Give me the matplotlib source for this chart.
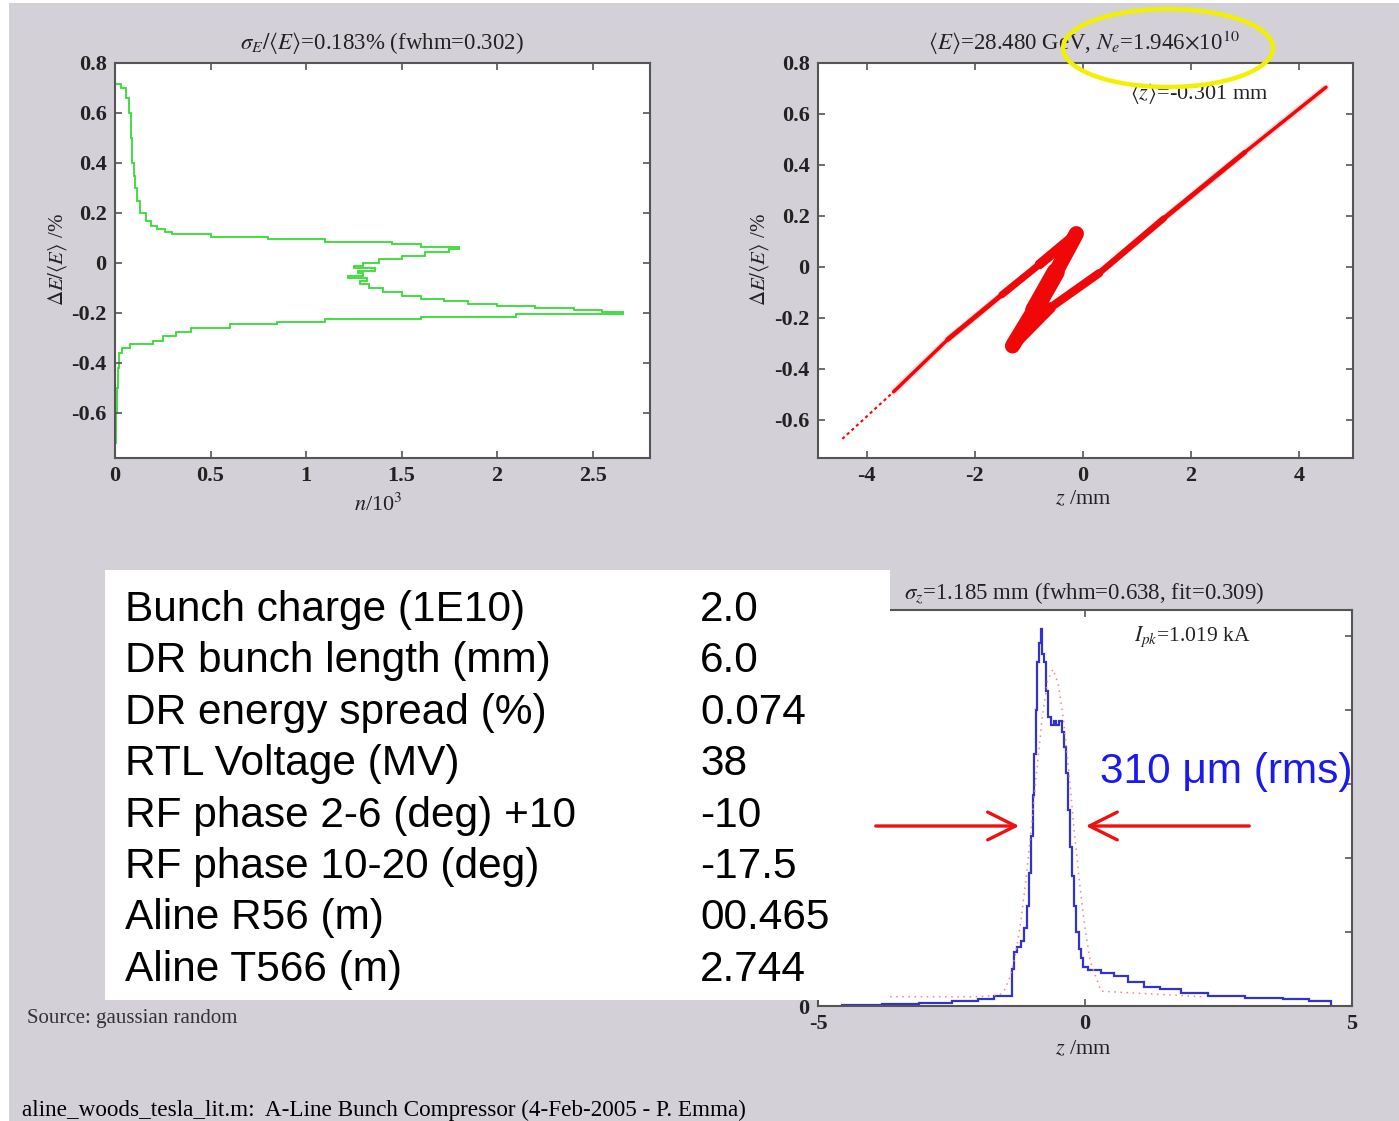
import numpy as np
import matplotlib
matplotlib.use("Agg")
import matplotlib.pyplot as plt
from matplotlib.patches import Rectangle, Ellipse, FancyArrowPatch

# energy projection: bin edges (dE/<E> in %) and counts (n/10^3)
e_edges = [-0.72, -0.60, -0.50, -0.42, -0.36, -0.34, -0.325, -0.31, -0.29, -0.275,
           -0.26, -0.245, -0.235, -0.225, -0.215, -0.205, -0.195, -0.188, -0.18, -0.17,
           -0.162, -0.152, -0.142, -0.13, -0.115, -0.10, -0.085, -0.072, -0.06, -0.05,
           -0.04, -0.03, -0.02, -0.01, 0.0, 0.015, 0.03, 0.045, 0.055, 0.065,
           0.075, 0.085, 0.095, 0.105, 0.115, 0.125, 0.135, 0.15, 0.17, 0.20,
           0.25, 0.30, 0.35, 0.40, 0.50, 0.60, 0.66, 0.70, 0.715]
e_counts = [0.005, 0.01, 0.015, 0.02, 0.035, 0.08, 0.2, 0.25, 0.32, 0.4,
            0.6, 0.85, 1.1, 1.6, 2.1, 2.66, 2.55, 2.4, 2.2, 2.0,
            1.85, 1.72, 1.6, 1.5, 1.4, 1.33, 1.28, 1.32, 1.22, 1.3,
            1.27, 1.36, 1.25, 1.3, 1.38, 1.5, 1.62, 1.75, 1.80, 1.6,
            1.45, 1.1, 0.8, 0.5, 0.3, 0.26, 0.22, 0.19, 0.16, 0.13,
            0.115, 0.105, 0.1, 0.09, 0.085, 0.075, 0.06, 0.03]

# longitudinal phase space: ridge of the particle cloud (z mm, dE %)
ridge_z = [-4.45, -3.5, -2.5, -1.5, -0.8, -0.12, -0.5, -0.9, -1.3,
           -0.6, 0.3, 1.5, 3.0, 4.5]
ridge_e = [-0.675, -0.49, -0.285, -0.11, 0.01, 0.13, -0.02, -0.17, -0.31,
           -0.16, -0.025, 0.19, 0.45, 0.705]

# current profile: bin edges (z mm) and peak current (kA)
i_edges = [-4.55, -3.8, -3.1, -2.5, -2.0, -1.7, -1.37, -1.33, -1.27, -1.2,
           -1.14, -1.09, -1.05, -1.01, -0.98, -0.95, -0.92, -0.89, -0.855, -0.825,
           -0.80, -0.77, -0.73, -0.69, -0.64, -0.58, -0.54, -0.48, -0.44, -0.40,
           -0.36, -0.32, -0.28, -0.24, -0.20, -0.16, -0.12, -0.08, -0.03, 0.05,
           0.30, 0.55, 0.80, 1.10, 1.40, 1.80, 2.30, 3.00, 3.70, 4.20, 4.60]
i_kA = [0.004, 0.006, 0.009, 0.013, 0.02, 0.028, 0.10, 0.145, 0.16, 0.175,
        0.21, 0.27, 0.36, 0.46, 0.57, 0.68, 0.80, 0.93, 0.98, 1.019,
        0.95, 0.93, 0.85, 0.78, 0.76, 0.77, 0.76, 0.77, 0.74, 0.70,
        0.63, 0.53, 0.43, 0.35, 0.27, 0.20, 0.155, 0.13, 0.105, 0.097,
        0.088, 0.08, 0.065, 0.052, 0.045, 0.035, 0.027, 0.022, 0.018, 0.014]

# gaussian fit (dotted)
fit_z = [-3.65, -2.0, -1.6, -1.5, -1.4, -1.3, -1.2, -1.1, -1.0, -0.9, -0.8,
         -0.7, -0.6, -0.5, -0.4, -0.3, -0.2, -0.1, 0.0, 0.1, 0.3, 2.2]
fit_kA = [0.025, 0.025, 0.03, 0.045, 0.08, 0.14, 0.23, 0.35, 0.49, 0.64, 0.78,
          0.88, 0.91, 0.87, 0.77, 0.63, 0.47, 0.33, 0.21, 0.12, 0.04, 0.025]

# machine parameters in the white box
param_names = ["Bunch charge (1E10)", "DR bunch length (mm)", "DR energy spread (%)",
               "RTL Voltage (MV)", "RF phase 2-6 (deg) +10", "RF phase 10-20 (deg)",
               "Aline R56 (m)", "Aline T566 (m)"]
param_values = ["2.0", "6.0", "0.074", "38", "-10", "-17.5", "00.465", "2.744"]

W, H = 1399, 1121
plt.rcParams['font.family'] = ['Liberation Serif', 'DejaVu Serif']
plt.rcParams['mathtext.fontset'] = 'stix'
plt.rcParams['axes.unicode_minus'] = False

fig = plt.figure(figsize=(W / 100, H / 100), dpi=100, facecolor='white')
bg = '#d4d0d8'
fig.patches.append(Rectangle((9 / W, 0), 1 - 9 / W, 1 - 3 / H, transform=fig.transFigure,
                             facecolor=bg, edgecolor='none', zorder=-10))


def T(x, y, s, **kw):
    return fig.text(x / W, 1 - y / H, s, **kw)


def box(l, t, r, b):
    return [l / W, 1 - b / H, (r - l) / W, (b - t) / H]


def style(ax):
    ax.set_facecolor('white')
    for sp in ax.spines.values():
        sp.set_color('#555555')
        sp.set_linewidth(1.5)
    ax.tick_params(direction='in', length=5, width=1.2, color='#555555',
                   top=True, right=True, labelsize=16, pad=6, labelcolor='#222222')
    for lab in ax.get_xticklabels() + ax.get_yticklabels():
        lab.set_fontweight('bold')


# top left: energy spectrum
ax1 = fig.add_axes(box(115, 63, 650, 458))
ax1.stairs(e_counts, e_edges, orientation='horizontal', color='#33dd33', lw=1.3)
ax1.set_xlim(0, 2.8)
ax1.set_ylim(-0.78, 0.8)
ax1.set_xticks([0, 0.5, 1, 1.5, 2, 2.5])
ax1.set_xticklabels(['0', '0.5', '1', '1.5', '2', '2.5'])
ax1.set_yticks([-0.6, -0.4, -0.2, 0, 0.2, 0.4, 0.6, 0.8])
ax1.set_yticklabels(['-0.6', '-0.4', '-0.2', '0', '0.2', '0.4', '0.6', '0.8'])
style(ax1)
T(382, 43, r'$\sigma_E/\langle E\rangle$=0.183% (fwhm=0.302)', ha='center', va='center',
  fontsize=16.5, color='#222222')
T(378, 505, r'$n$/10$^3$', ha='center', va='center', fontsize=16, color='#222222')
T(58, 260, r'$\Delta E/\langle E\rangle$ /%', ha='center', va='center', rotation=90,
  fontsize=15, color='#222222')

# top right: phase space (band drawn segment by segment, width in points)
ax2 = fig.add_axes(box(818, 63, 1353, 458))
# faint halo as one path so it doesn't stack up at the joints
ax2.plot(ridge_z[1:], ridge_e[1:], color='#ff5050', lw=5, alpha=0.2,
         solid_capstyle='round', solid_joinstyle='round')
band_w = [1.5, 2.5, 3.5, 5, 7, 11, 13, 11, 8, 6, 4.5, 3.5, 2.5]
for i in range(len(ridge_z) - 1):
    ax2.plot(ridge_z[i:i + 2], ridge_e[i:i + 2], color='#f00808', lw=band_w[i],
             solid_capstyle='round', ls=(0, (1.5, 1.5)) if i == 0 else '-')
ax2.set_xlim(-4.9, 5.0)
ax2.set_ylim(-0.75, 0.8)
ax2.set_xticks([-4, -2, 0, 2, 4])
ax2.set_xticklabels(['-4', '-2', '0', '2', '4'])
ax2.set_yticks([-0.6, -0.4, -0.2, 0, 0.2, 0.4, 0.6, 0.8])
ax2.set_yticklabels(['-0.6', '-0.4', '-0.2', '0', '0.2', '0.4', '0.6', '0.8'])
style(ax2)
T(1084, 43, r'$\langle E\rangle$=28.480 GeV, $N_e$=1.946$\times$10$^{10}$', ha='center',
  va='center', fontsize=16.5, color='#222222')
T(1199, 94, r'$\langle z\rangle$=-0.301 mm', ha='center', va='center', fontsize=16,
  color='#222222')
T(1083, 500, r'$z$ /mm', ha='center', va='center', fontsize=16, color='#222222')
T(760, 260, r'$\Delta E/\langle E\rangle$ /%', ha='center', va='center', rotation=90,
  fontsize=15, color='#222222')

# bottom right: current profile (left tick labels sit under the white box)
ax3 = fig.add_axes(box(818, 610, 1352, 1006))
ax3.plot(fit_z, fit_kA, color='#ee8888', lw=1.1, ls=(0, (1, 3)))
ax3.stairs(i_kA, i_edges, color='#3333cc', lw=1.6)
ax3.set_xlim(-5, 5)
ax3.set_ylim(0, 1.07)
ax3.set_xticks([-5, 0, 5])
ax3.set_xticklabels(['-5', '0', '5'])
ax3.set_yticks([0, 0.2, 0.4, 0.6, 0.8, 1.0])
ax3.set_yticklabels(['0', '', '', '', '', ''])
style(ax3)
T(1084, 593, r'$\sigma_z$=1.185 mm (fwhm=0.638, fit=0.309)', ha='center', va='center',
  fontsize=16.5, color='#222222')
T(1192, 637, r'$I_{pk}$=1.019 kA', ha='center', va='center', fontsize=15.5, color='#222222')
T(1083, 1050, r'$z$ /mm', ha='center', va='center', fontsize=16, color='#222222')

# white parameter box
fig.patches.append(Rectangle((105 / W, 1 - 1000 / H), 785 / W, 430 / H,
                             transform=fig.transFigure, facecolor='white',
                             edgecolor='none', zorder=1))
for k, (name, val) in enumerate(zip(param_names, param_values)):
    y = 610 + k * 51.4
    T(125, y, name, ha='left', va='center', fontsize=30.5, family='Liberation Sans',
      color='black', zorder=5)
    T(700, y, val, ha='left', va='center', fontsize=30.5, family='Liberation Sans',
      color='black', zorder=5)

# annotations
T(1100, 772, '310 \u03bcm (rms)', ha='left', va='center', fontsize=30.5,
  family='Liberation Sans', color='#1a1aee', zorder=5)
for x0, x1 in [(873, 1022), (1252, 1083)]:
    arr = FancyArrowPatch((x0 / W, 1 - 826 / H), (x1 / W, 1 - 826 / H),
                          transform=fig.transFigure, arrowstyle='->,head_length=20,head_width=10',
                          mutation_scale=1, color='#ee1111', lw=2.4, zorder=6)
    fig.patches.append(arr)
fig.patches.append(Ellipse((1168 / W, 1 - 48 / H), 210 / W, 78 / H, transform=fig.transFigure,
                           facecolor='none', edgecolor='#f2f000', lw=3.2, zorder=6))

T(27, 1018, 'Source: gaussian random', ha='left', va='center', fontsize=15, color='#333333')
T(22, 1110, 'aline_woods_tesla_lit.m:  A-Line Bunch Compressor (4-Feb-2005 - P. Emma)',
  ha='left', va='center', fontsize=16.7, color='black')

fig.savefig('out.png', dpi=100, facecolor=fig.get_facecolor())
